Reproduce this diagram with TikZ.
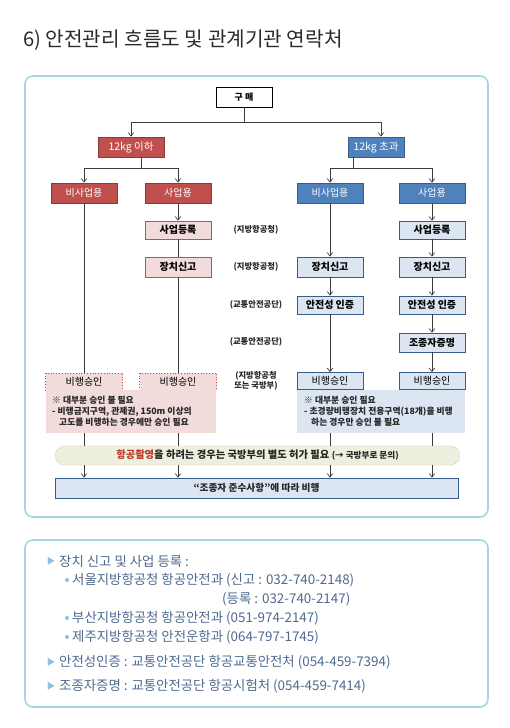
\documentclass[tikz,border=0pt]{standalone}
\usepackage{fontspec}
\setmainfont{Noto Sans CJK KR}
\usetikzlibrary{arrows.meta,calc}
\definecolor{redbox}{HTML}{C0504D}
\definecolor{redline}{HTML}{8C3836}
\definecolor{bluebox}{HTML}{4F81BD}
\definecolor{blueline}{HTML}{385D8A}
\definecolor{pinkbox}{HTML}{F2DCDB}
\definecolor{lbluebox}{HTML}{DCE6F2}
\definecolor{pillfill}{HTML}{EEF0DF}
\definecolor{pillline}{HTML}{BFC4A6}
\definecolor{framecol}{HTML}{A6D6E1}
\definecolor{conncol}{HTML}{3C3C3C}
\definecolor{infotext}{HTML}{4F6A90}
\definecolor{tricol}{HTML}{8CC0DE}
\definecolor{titletext}{HTML}{2B2B2B}
\definecolor{notetext}{HTML}{262626}
\definecolor{hred}{HTML}{C0392B}
\begin{document}
\begin{tikzpicture}[x=1pt,y=-1pt,
  base/.style={rectangle, inner sep=0pt, font=\fontsize{10}{11}\selectfont, minimum height=20pt, minimum width=66pt, line width=0.8pt},
  redb/.style={base, fill=redbox, draw=redline, text=white},
  blueb/.style={base, fill=bluebox, draw=blueline, text=white},
  pinkb/.style={base, fill=pinkbox, draw=redbox, font=\bfseries\fontsize{10}{11}\selectfont},
  lblueb/.style={base, fill=lbluebox, draw=blueline, font=\bfseries\fontsize{10}{11}\selectfont},
  dotb/.style={base, fill=pinkbox, draw=redbox, dotted, minimum width=77pt, minimum height=17pt},
  apprb/.style={base, fill=lbluebox, draw=blueline, minimum height=17pt},
  lab/.style={font=\bfseries\fontsize{8.3}{10}\selectfont, align=center, text=notetext, inner sep=0pt},
  notetxt/.style={font=\bfseries\fontsize{8.8}{11}\selectfont, align=left, text=notetext, inner sep=0pt, anchor=north west},
  conn/.style={draw=conncol, line width=0.7pt},
  arr/.style={conn, -{Straight Barb[length=3.5pt,width=5.5pt]}},
  info/.style={font=\fontsize{13.4}{15}\selectfont, text=infotext, anchor=west, inner sep=0pt},
  frame/.style={draw=framecol, line width=1.6pt, rounded corners=8pt, fill=white}
]
\useasboundingbox (0,0) rectangle (510,728);
\fill[white] (0,0) rectangle (510,728);

% title
\node[font=\fontsize{20.2}{24}\selectfont, text=titletext, anchor=west, inner sep=0pt] (title) at (23,40) {6) 안전관리 흐름도 및 관계기관 연락처};

% frames
\draw[frame] (25,76) rectangle (488,517);
\draw[frame] (25,540) rectangle (488,707);

% top nodes
\node[base, fill=white, draw=black, minimum width=56pt, font=\bfseries\fontsize{9}{10}\selectfont] (gumae) at (244,97) {구 매};
\node[redb, font=\fontsize{10.5}{11}\selectfont] (l12) at (131,147) {12kg 이하};
\node[blueb, minimum width=56pt, font=\fontsize{10.5}{11}\selectfont] (r12) at (376,147) {12kg 초과};

\node[redb] (lnb) at (84,193) {비사업용};
\node[redb] (lb) at (178,193) {사업용};
\node[blueb] (rnb) at (330,193) {비사업용};
\node[blueb] (rb) at (432,193) {사업용};

% left column
\node[pinkb, minimum height=18pt] (lreg) at (178,230) {사업등록};
\node[pinkb] (ldev) at (178,267) {장치신고};
\node[dotb] (lapp1) at (84,381.5) {비행승인};
\node[dotb] (lapp2) at (178,381.5) {비행승인};

% right column
\node[lblueb] (rdev) at (330,267) {장치신고};
\node[lblueb, minimum height=18pt] (rcert) at (330,305) {안전성 인증};
\node[lblueb, minimum height=18pt] (rreg) at (432,230) {사업등록};
\node[lblueb] (rdev2) at (432,267) {장치신고};
\node[lblueb, minimum height=18pt] (rcert2) at (432,305) {안전성 인증};
\node[lblueb, minimum height=19pt] (rpilot) at (432,342.5) {조종자증명};
\node[apprb] (rapp1) at (330,381) {비행승인};
\node[apprb] (rapp2) at (432,381) {비행승인};

% middle labels
\node[lab] (m1) at (256,230) {(지방항공청)};
\node[lab] (m2) at (256,267) {(지방항공청)};
\node[lab] (m3) at (256,305) {(교통안전공단)};
\node[lab] (m4) at (256,342) {(교통안전공단)};
\node[lab] (m5) at (256,381) {(지방항공청\\또는 국방부)};

% notes
\fill[pinkbox] (46,390) rectangle (216,433);
\coordinate (lnoteS) at (131,433);
\node[notetxt] (lnote) at (52,395.5) {※ 대부분 승인 불 필요\\- 비행금지구역, 관제권, 150m 이상의\\\hspace*{7pt}고도를 비행하는 경우에만 승인 필요};
\fill[lbluebox] (297,390) rectangle (465,433);
\coordinate (rnoteS) at (381,433);
\node[notetxt] (rnote) at (304,395.5) {※ 대부분 승인 필요\\- 초경량비행장치 전용구역(18개)을 비행\\\hspace*{7pt}하는 경우만 승인 불 필요};

% pill and final box
\node[base, rounded corners=9.5pt, fill=pillfill, draw=pillline, dotted, line width=0.8pt, minimum width=405pt, minimum height=19pt, font=\bfseries\fontsize{10.3}{11}\selectfont, text=notetext] (pill) at (257.5,455.5) {{\color{hred}항공촬영}을 하려는 경우는 국방부의 별도 허가 필요 {\fontsize{8.6}{9}\selectfont (→ 국방부로 문의)}};
\node[base, fill=lbluebox, draw=blueline, minimum width=403pt, minimum height=20pt, font=\bfseries\fontsize{9.7}{10}\selectfont, text=notetext] (final) at (256.5,488) {“조종자 준수사항”에 따라 비행};

% connectors top
\coordinate (hl) at (131,122);
\coordinate (hr) at (381,122);
\draw[conn] (gumae.south) -- (gumae.south |- hl);
\draw[conn] (hl) -- (hr);
\draw[arr] (hl) -- (l12.north);
\draw[arr] (hr) -- (hr |- r12.north);

\coordinate (lj) at (141,168);
\draw[conn] (lj |- l12.south) -- (lj);
\draw[conn] (lnb.north |- lj) -- (lb.north |- lj);
\draw[arr] (lnb.north |- lj) -- (lnb.north);
\draw[arr] (lb.north |- lj) -- (lb.north);

\coordinate (rj) at (353,168);
\draw[conn] (rj |- r12.south) -- (rj);
\draw[conn] (rnb.north |- rj) -- (rb.north |- rj);
\draw[arr] (rnb.north |- rj) -- (rnb.north);
\draw[arr] (rb.north |- rj) -- (rb.north);

% left column connectors
\draw[conn] (lnb.south) -- (lapp1.north);
\draw[arr] (lb.south) -- (lreg.north);
\draw[conn] (lreg.south) -- (ldev.north);
\draw[conn] (ldev.south) -- (lapp2.north);

% right column connectors
\draw[arr] (rnb.south) -- (rdev.north);
\draw[arr] (rdev.south) -- (rcert.north);
\draw[arr] (rcert.south) -- (rapp1.north);
\draw[arr] (rb.south) -- (rreg.north);
\draw[arr] (rreg.south) -- (rdev2.north);
\draw[arr] (rdev2.south) -- (rcert2.north);
\draw[arr] (rcert2.south) -- (rpilot.north);
\draw[arr] (rpilot.south) -- (rapp2.north);

% notes to pill, pill to final
\foreach \n/\s in {lapp1/lnoteS, lapp2/lnoteS, rapp1/rnoteS, rapp2/rnoteS}{
  \draw[conn] (\n.south |- \s) -- (\n.south |- pill.north);
  \draw[arr] (\n.south |- pill.south) -- (\n.south |- final.north);
}

% info box
\node[font=\fontsize{8.5}{9}\selectfont, text=tricol, inner sep=0pt] (t1) at (51,561) {▶};
\node[info] (i1) at (59,561) {장치 신고 및 사업 등록 :};
\fill[tricol] (67,580) circle (2pt);
\node[info] (i2) at (72,580) {서울지방항공청 항공안전과 (신고 : 032-740-2148)};
\node[info] (i3) at (222,599) {(등록 : 032-740-2147)};
\fill[tricol] (67,618) circle (2pt);
\node[info] (i4) at (72,618) {부산지방항공청 항공안전과 (051-974-2147)};
\fill[tricol] (67,637) circle (2pt);
\node[info] (i5) at (72,637) {제주지방항공청 안전운항과 (064-797-1745)};
\node[font=\fontsize{8.5}{9}\selectfont, text=tricol, inner sep=0pt] (t2) at (51,662) {▶};
\node[info] (i6) at (59,662) {안전성인증 : 교통안전공단 항공교통안전처 (054-459-7394)};
\node[font=\fontsize{8.5}{9}\selectfont, text=tricol, inner sep=0pt] (t3) at (51,686) {▶};
\node[info] (i7) at (59,686) {조종자증명 : 교통안전공단 항공시험처 (054-459-7414)};
\end{tikzpicture}
\end{document}
